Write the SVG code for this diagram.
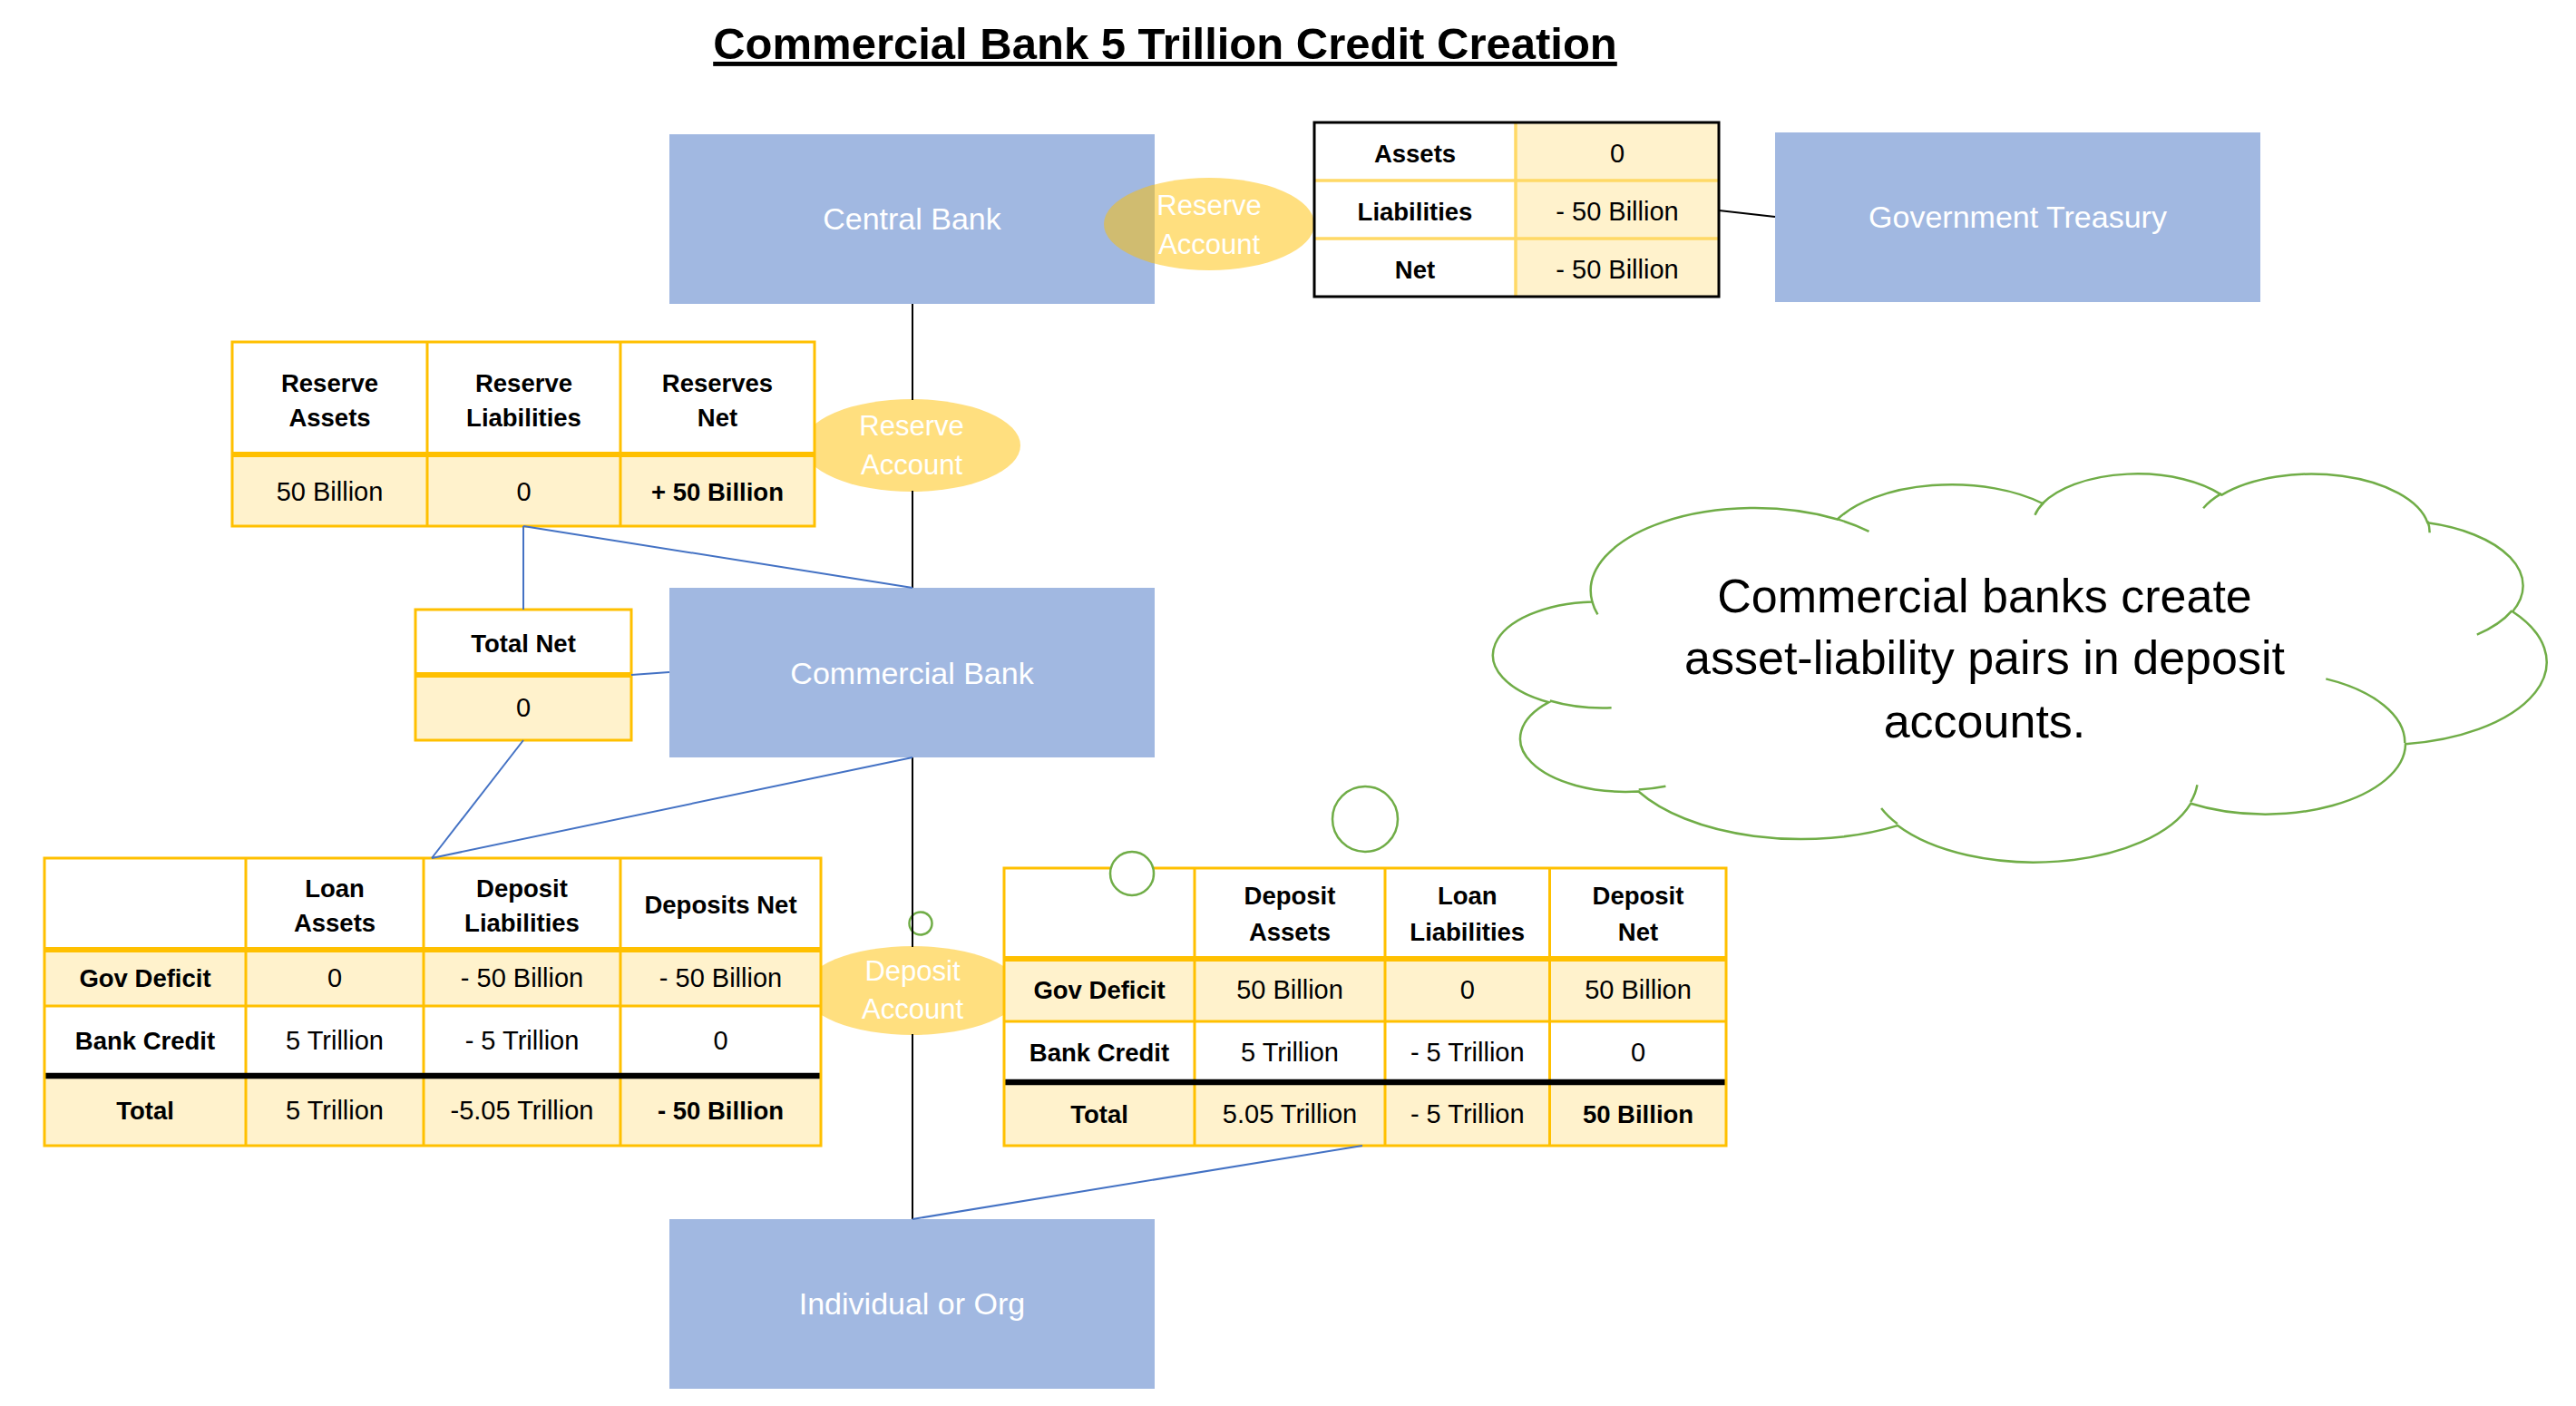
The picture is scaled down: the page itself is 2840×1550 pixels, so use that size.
<svg xmlns="http://www.w3.org/2000/svg" width="2840" height="1550" viewBox="0 0 2840 1550">
<style>
text{font-family:"Liberation Sans",Arial,sans-serif;text-anchor:middle}
.title{font-size:49px;font-weight:bold;fill:#000;text-decoration:underline;text-decoration-thickness:4px;text-underline-offset:9px}
.node{fill:#A1B8E1}
.nl{font-size:34px;fill:#fff}
.acct{fill:#FFC000;fill-opacity:.5}
.al{font-size:31px;fill:#fff}
.th{font-size:27.5px;font-weight:bold;fill:#000}
.td{font-size:29px;fill:#000}
.lt{fill:#FFF2CC}
.wh{fill:#fff}
.gb{fill:none;stroke:#FFC000;stroke-width:3}
.gl{stroke:#FFC000;stroke-width:3}
.gthick{stroke:#FFC000;stroke-width:6}
.bthick{stroke:#000;stroke-width:6.5}
.pl{stroke:#FFD966;stroke-width:3.5}
.blk{stroke:#000;stroke-width:2;fill:none}
.blu{stroke:#4472C4;stroke-width:2;fill:none}
.cloud{fill:#fff;stroke:#70AD47;stroke-width:2.5}
.cl{font-size:52px;fill:#000}
</style>

<text class="title" x="1284.5" y="65">Commercial Bank 5 Trillion Credit Creation</text>

<g id="central-bank">
<rect class="node" x="738" y="148" width="535" height="187"/>
<text class="nl" x="1005.5" y="253">Central Bank</text>
</g>
<g id="government-treasury">
<rect class="node" x="1957" y="146" width="535" height="187"/>
<text class="nl" x="2224.5" y="251">Government Treasury</text>
</g>
<g id="commercial-bank">
<rect class="node" x="738" y="648" width="535" height="187"/>
<text class="nl" x="1005.5" y="754">Commercial Bank</text>
</g>
<g id="individual-or-org">
<rect class="node" x="738" y="1344" width="535" height="187"/>
<text class="nl" x="1005.5" y="1449">Individual or Org</text>
</g>

<g id="reserve-account-1">
<ellipse class="acct" cx="1333" cy="247" rx="116" ry="51"/>
<text class="al" x="1333" y="237">Reserve</text>
<text class="al" x="1333" y="280">Account</text>
</g>
<g id="reserve-account-2">
<ellipse class="acct" cx="1005" cy="491" rx="120" ry="51"/>
<text class="al" x="1005" y="480">Reserve</text>
<text class="al" x="1005" y="523">Account</text>
</g>
<g id="deposit-account">
<ellipse class="acct" cx="1006" cy="1092" rx="120" ry="49"/>
<text class="al" x="1006" y="1081">Deposit</text>
<text class="al" x="1006" y="1123">Account</text>
</g>

<g id="treasury-table">
<rect class="wh" x="1449" y="135" width="222" height="192"/>
<rect class="lt" x="1671" y="135" width="224" height="192"/>
<line class="pl" x1="1449" y1="199" x2="1895" y2="199"/>
<line class="pl" x1="1449" y1="263" x2="1895" y2="263"/>
<line class="pl" x1="1671" y1="135" x2="1671" y2="327"/>
<rect x="1449" y="135" width="446" height="192" fill="none" stroke="#000" stroke-width="3"/>
<text class="th" x="1560" y="179">Assets</text>
<text class="td" x="1783" y="179">0</text>
<text class="th" x="1560" y="243">Liabilities</text>
<text class="td" x="1783" y="243">- 50 Billion</text>
<text class="th" x="1560" y="307">Net</text>
<text class="td" x="1783" y="307">- 50 Billion</text>
</g>

<g id="reserve-table">
<rect class="wh" x="256" y="377" width="642" height="125"/>
<rect class="lt" x="256" y="502" width="642" height="78"/>
<line class="gl" x1="471" y1="377" x2="471" y2="580"/>
<line class="gl" x1="684" y1="377" x2="684" y2="580"/>
<line class="gthick" x1="256" y1="501" x2="898" y2="501"/>
<rect class="gb" x="256" y="377" width="642" height="203"/>
<text class="th" x="363.5" y="432">Reserve</text>
<text class="th" x="363.5" y="470">Assets</text>
<text class="th" x="577.5" y="432">Reserve</text>
<text class="th" x="577.5" y="470">Liabilities</text>
<text class="th" x="791" y="432">Reserves</text>
<text class="th" x="791" y="470">Net</text>
<text class="td" x="363.5" y="552">50 Billion</text>
<text class="td" x="577.5" y="552">0</text>
<text class="th" x="791" y="552">+ 50 Billion</text>
</g>

<g id="total-net">
<rect class="wh" x="458" y="672" width="238" height="72"/>
<rect class="lt" x="458" y="744" width="238" height="72"/>
<line class="gthick" x1="458" y1="744" x2="696" y2="744"/>
<rect class="gb" x="458" y="672" width="238" height="144"/>
<text class="th" x="577" y="719">Total Net</text>
<text class="td" x="577" y="790">0</text>
</g>

<g id="loan-table">
<rect class="wh" x="49" y="946" width="856" height="101"/>
<rect class="lt" x="49" y="1047" width="856" height="62"/>
<rect class="wh" x="49" y="1109" width="856" height="77"/>
<rect class="lt" x="49" y="1186" width="856" height="77"/>
<line class="gl" x1="271" y1="946" x2="271" y2="1263"/>
<line class="gl" x1="467" y1="946" x2="467" y2="1263"/>
<line class="gl" x1="684" y1="946" x2="684" y2="1263"/>
<line class="gl" x1="49" y1="1109" x2="905" y2="1109"/>
<line class="gthick" x1="49" y1="1047" x2="905" y2="1047"/>
<line class="bthick" x1="49" y1="1186" x2="905" y2="1186"/>
<rect class="gb" x="49" y="946" width="856" height="317"/>
<text class="th" x="369" y="989">Loan</text>
<text class="th" x="369" y="1027">Assets</text>
<text class="th" x="575.5" y="989">Deposit</text>
<text class="th" x="575.5" y="1027">Liabilities</text>
<text class="th" x="794.5" y="1007">Deposits Net</text>
<text class="th" x="160" y="1088">Gov Deficit</text>
<text class="td" x="369" y="1088">0</text>
<text class="td" x="575.5" y="1088">- 50 Billion</text>
<text class="td" x="794.5" y="1088">- 50 Billion</text>
<text class="th" x="160" y="1157">Bank Credit</text>
<text class="td" x="369" y="1157">5 Trillion</text>
<text class="td" x="575.5" y="1157">- 5 Trillion</text>
<text class="td" x="794.5" y="1157">0</text>
<text class="th" x="160" y="1234">Total</text>
<text class="td" x="369" y="1234">5 Trillion</text>
<text class="td" x="575.5" y="1234">-5.05 Trillion</text>
<text class="th" x="794.5" y="1234">- 50 Billion</text>
</g>

<g id="deposit-table">
<rect class="wh" x="1107" y="957" width="796" height="100"/>
<rect class="lt" x="1107" y="1057" width="796" height="69"/>
<rect class="wh" x="1107" y="1126" width="796" height="67"/>
<rect class="lt" x="1107" y="1193" width="796" height="70"/>
<line class="gl" x1="1317" y1="957" x2="1317" y2="1263"/>
<line class="gl" x1="1527" y1="957" x2="1527" y2="1263"/>
<line class="gl" x1="1708.5" y1="957" x2="1708.5" y2="1263"/>
<line class="gl" x1="1107" y1="1126" x2="1903" y2="1126"/>
<line class="gthick" x1="1107" y1="1057" x2="1903" y2="1057"/>
<line class="bthick" x1="1107" y1="1193" x2="1903" y2="1193"/>
<rect class="gb" x="1107" y="957" width="796" height="306"/>
<text class="th" x="1422" y="997">Deposit</text>
<text class="th" x="1422" y="1037">Assets</text>
<text class="th" x="1617.75" y="997">Loan</text>
<text class="th" x="1617.75" y="1037">Liabilities</text>
<text class="th" x="1806" y="997">Deposit</text>
<text class="th" x="1806" y="1037">Net</text>
<text class="th" x="1212" y="1101">Gov Deficit</text>
<text class="td" x="1422" y="1101">50 Billion</text>
<text class="td" x="1617.75" y="1101">0</text>
<text class="td" x="1806" y="1101">50 Billion</text>
<text class="th" x="1212" y="1170">Bank Credit</text>
<text class="td" x="1422" y="1170">5 Trillion</text>
<text class="td" x="1617.75" y="1170">- 5 Trillion</text>
<text class="td" x="1806" y="1170">0</text>
<text class="th" x="1212" y="1238">Total</text>
<text class="td" x="1422" y="1238">5.05 Trillion</text>
<text class="td" x="1617.75" y="1238">- 5 Trillion</text>
<text class="th" x="1806" y="1238">50 Billion</text>
</g>

<g id="cloud-callout">
<path class="cloud" d="M1755.4,663.4 A180.7,91.05 0 0 1 2025.7,572.5 A142.7,72.0 0 0 1 2251.9,555.0 A116.8,58.9 0 0 1 2449.4,545.6 A130.0,65.3 0 0 1 2676.4,576.3 A142.7,72.06 0 0 1 2770.1,674.2 A181.3,91.35 0 0 1 2652.0,820.3 A154.8,77.9 0 0 1 2415.2,885.8 A180.7,91.3 0 0 1 2092.1,910.1 A206.6,104.5 0 0 1 1806.4,872.5 A116.7,58.6 0 0 1 1707.6,774.2 A116.3,58.9 0 0 1 1755.4,663.4 Z"/>
<path class="cloud" style="fill:none" d="M1776.6,780.3 A116.3,58.9 0 0 1 1708.8,772.5 M1836.4,866.8 A116.7,58.6 0 0 1 1806.7,870.5 M2091.9,908.3 A180.7,91.3 0 0 1 2074.1,891.0 M2422.4,865.3 A180.7,91.3 0 0 1 2415.2,884.2 M2564.3,748.4 A154.8,77.9 0 0 1 2651.3,819.1 M2769.5,673.1 A142.7,72.06 0 0 1 2730.8,699.6 M2676.5,574.8 A130,65.3 0 0 1 2678.6,587.3 M2429.1,560.2 A130,65.3 0 0 1 2449.0,544.2 M2243.5,567.8 A116.8,58.9 0 0 1 2253.1,554.0 M2025.6,572.4 A180.7,91.05 0 0 1 2060.5,585.8 M1761.4,677.4 A180.7,91.05 0 0 1 1755.4,663.4"/>
<circle class="cloud" cx="1505" cy="903" r="36"/>
<circle class="cloud" cx="1248" cy="963" r="24"/>
<circle class="cloud" cx="1015" cy="1018" r="12.5"/>
<text class="cl" x="2188" y="675">Commercial banks create</text>
<text class="cl" x="2188" y="743">asset-liability pairs in deposit</text>
<text class="cl" x="2188" y="813">accounts.</text>
</g>

<g id="connectors">
<line class="blk" x1="1006" y1="335" x2="1006" y2="441"/>
<line class="blk" x1="1006" y1="541" x2="1006" y2="648"/>
<line class="blk" x1="1006" y1="835" x2="1006" y2="1044"/>
<line class="blk" x1="1006" y1="1140" x2="1006" y2="1344"/>
<line class="blk" x1="1895" y1="232" x2="1957" y2="239"/>
<line class="blu" x1="577" y1="580" x2="577" y2="672"/>
<line class="blu" x1="577" y1="580" x2="1006" y2="648"/>
<line class="blu" x1="696" y1="744" x2="738" y2="741"/>
<line class="blu" x1="577" y1="816" x2="476" y2="946"/>
<line class="blu" x1="1006" y1="835" x2="476" y2="946"/>
<line class="blu" x1="1502" y1="1263" x2="1006" y2="1344"/>
</g>
</svg>
